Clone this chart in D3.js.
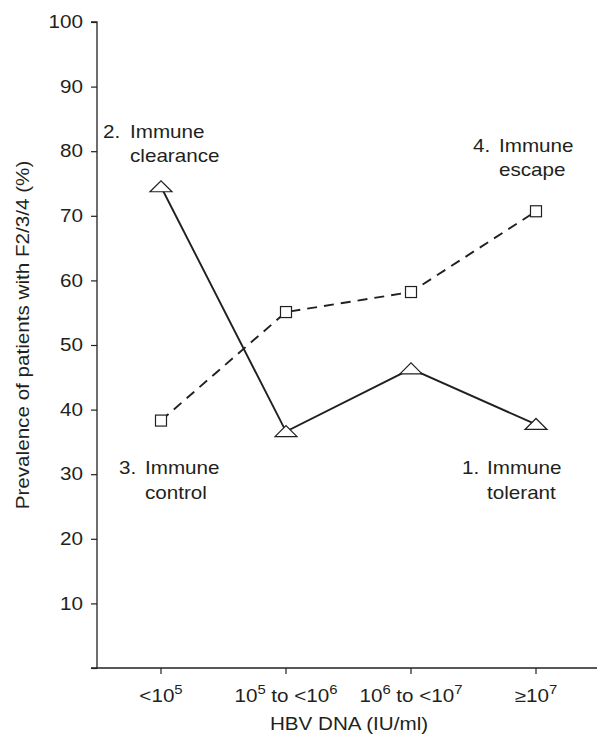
<!DOCTYPE html>
<html>
<head>
<meta charset="utf-8">
<script src="https://cdn.jsdelivr.net/npm/d3@7"></script>
<style>
  html, body { margin: 0; padding: 0; background: #fff; }
  svg text { font-family: "Liberation Sans", Arial, Helvetica, sans-serif; fill: #231f20; }
</style>
</head>
<body>
<div id="chart"></div>
<script>
// HBV DNA categories and prevalence of F2/3/4 (%) per phase group
const categories = ["<10^5", "10^5 to <10^6", "10^6 to <10^7", "≥10^7"];
const tickLabels = [
  [["<10", ""], ["5", "sup"]],
  [["10", ""], ["5", "sup"], [" to <10", ""], ["6", "sup"]],
  [["10", ""], ["6", "sup"], [" to <10", ""], ["7", "sup"]],
  [["≥10", ""], ["7", "sup"]],
];
const triangleValues = [74.5, 36.6, 46.3, 37.7];   // solid line
const squareValues   = [38.3, 55.1, 58.2, 70.7];   // dashed line
const yTicks = [0, 10, 20, 30, 40, 50, 60, 70, 80, 90, 100];

const W = 597, H = 735;
const margin = { left: 97, top: 22, right: 0, bottom: 68 };
const SX = 1.18;        // text in the source is a bit wider than Arial
const FS = 17.5;
const ink = "#231f20";

const svg = d3.select("#chart").append("svg")
  .attr("width", W).attr("height", H);

const x = d3.scalePoint().domain(categories)
  .range([161, 536]);
const y = d3.scaleLinear().domain([0, 100])
  .range([H - margin.bottom + 1, margin.top]);

// stretched text helper
function label(g, tx, ty, str, anchor) {
  return g.append("text")
    .attr("transform", `translate(${tx},${ty}) scale(${SX},1)`)
    .attr("text-anchor", anchor || "start")
    .attr("font-size", FS + "px")
    .text(str);
}

// ---- y axis
const yAxis = svg.append("g")
  .attr("transform", `translate(${margin.left},0)`)
  .call(d3.axisLeft(y).tickValues(yTicks).tickSize(6).tickPadding(8)
    .tickFormat((d) => d === 0 ? "" : d));
yAxis.select(".domain").attr("stroke", ink).attr("stroke-width", 1.3)
  .attr("d", `M-6,${y(100)}H0V${y(0)}H-6`);
yAxis.selectAll(".tick line").attr("stroke", ink).attr("stroke-width", 1.2);
yAxis.selectAll(".tick text")
  .attr("font-size", FS + "px")
  .attr("font-family", null)
  .attr("fill", ink)
  .attr("transform", `scale(${SX},1)`)
  .attr("x", -8 / SX - 6 / SX);

// ---- x axis
const xAxis = svg.append("g")
  .attr("transform", `translate(0,${y(0)})`);
xAxis.append("line")
  .attr("x1", margin.left).attr("x2", W)
  .attr("stroke", ink).attr("stroke-width", 1.3);
xAxis.selectAll(".xt").data(categories).join("line")
  .attr("class", "xt")
  .attr("x1", (d) => x(d)).attr("x2", (d) => x(d))
  .attr("y1", 0).attr("y2", 6)
  .attr("stroke", ink).attr("stroke-width", 1.2);

categories.forEach((c, i) => {
  const t = xAxis.append("text")
    .attr("transform", `translate(${x(c)},34) scale(${SX},1)`)
    .attr("text-anchor", "middle")
    .attr("font-size", FS + "px");
  tickLabels[i].forEach(([s, kind]) => {
    const ts = t.append("tspan").text(s);
    if (kind === "sup") ts.attr("font-size", (FS * 0.72) + "px").attr("dy", -8);
    else if (t.selectAll("tspan").size() > 1) ts.attr("dy", 8);
  });
});

label(svg, 349, 730, "HBV DNA (IU/ml)", "middle");

// y axis title
svg.append("text")
  .attr("transform", `translate(29,335) rotate(-90) scale(${SX},1)`)
  .attr("text-anchor", "middle")
  .attr("font-size", FS + "px")
  .text("Prevalence of patients with F2/3/4 (%)");

// ---- lines
const lineGen = d3.line()
  .x((d, i) => x(categories[i]))
  .y((d) => y(d));

svg.append("path").datum(squareValues)
  .attr("d", lineGen)
  .attr("fill", "none").attr("stroke", ink)
  .attr("stroke-width", 1.9).attr("stroke-dasharray", "10,7");

svg.append("path").datum(triangleValues)
  .attr("d", lineGen)
  .attr("fill", "none").attr("stroke", ink)
  .attr("stroke-width", 1.9);

// ---- markers
svg.append("g").selectAll("rect").data(squareValues).join("rect")
  .attr("x", (d, i) => x(categories[i]) - 5.5)
  .attr("y", (d) => y(d) - 5.5)
  .attr("width", 11).attr("height", 11)
  .attr("fill", "#fff").attr("stroke", ink).attr("stroke-width", 1.2);

svg.append("g").selectAll("path").data(triangleValues).join("path")
  .attr("d", (d, i) => {
    const cx = x(categories[i]), cy = y(d);
    return `M${cx - 11},${cy + 5}L${cx},${cy - 6}L${cx + 11},${cy + 5}Z`;
  })
  .attr("fill", "#fff").attr("stroke", ink).attr("stroke-width", 1.2);

// ---- phase annotations
label(svg, 103, 138, "2.");
label(svg, 130, 138, "Immune");
label(svg, 130, 162, "clearance");

label(svg, 473, 152, "4.");
label(svg, 499, 152, "Immune");
label(svg, 499, 176, "escape");

label(svg, 119, 474, "3.");
label(svg, 145, 474, "Immune");
label(svg, 145, 499, "control");

label(svg, 462, 474, "1.");
label(svg, 487, 474, "Immune");
label(svg, 487, 499, "tolerant");
</script>
</body>
</html>
